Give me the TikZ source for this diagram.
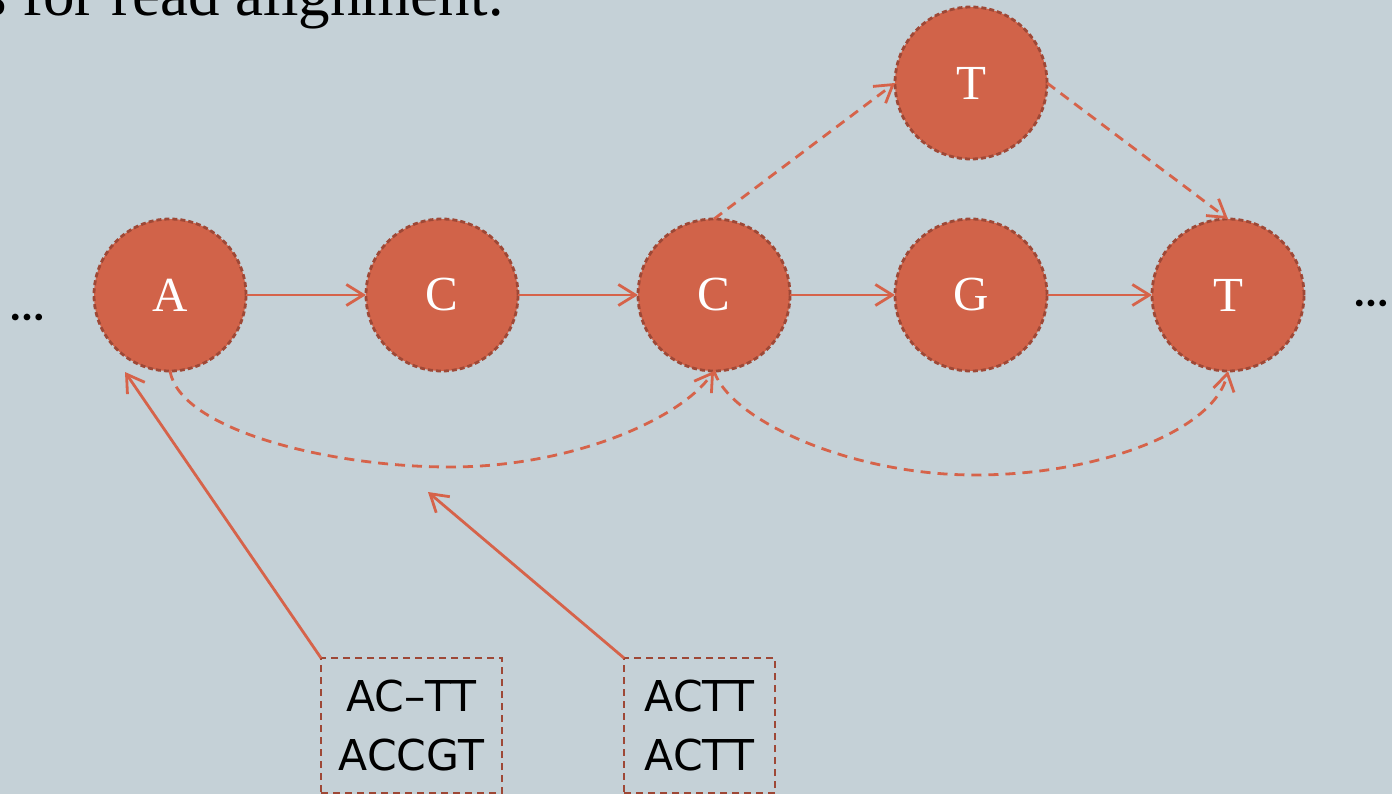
\documentclass[tikz,border=0pt]{standalone}
\usepackage{fontspec}
\setmainfont{Liberation Serif}
\newfontfamily\boxfont{DejaVu Sans}
\newfontfamily\dotfont{Lato}
\usetikzlibrary{arrows.meta}
\definecolor{bg}{HTML}{C5D1D7}
\definecolor{nodefill}{HTML}{D16349}
\definecolor{nodeedge}{HTML}{9E4836}
\definecolor{connc}{HTML}{D6634A}
\begin{document}
\begin{tikzpicture}[x=1pt,y=-1pt,
  base/.style={circle, fill=nodefill, draw=nodeedge, line width=2.8pt, dash pattern=on 5pt off 3pt, minimum size=152pt, inner sep=0pt, outer sep=0pt, text=white, font=\fontsize{49}{49}\selectfont},
  conn/.style={draw=connc, line width=2.8pt, -{Straight Barb[length=17pt,width=21pt,line width=2.8pt]}},
  dashconn/.style={conn, dash pattern=on 10pt off 7pt},
  readbox/.style={draw=nodeedge, line width=2.5pt, dash pattern=on 7pt off 5pt, anchor=north west, inner sep=0pt, outer sep=0pt, minimum height=135pt, align=center, text=black, font=\boxfont\fontsize{42.5}{59}\selectfont},
  dotstyle/.style={anchor=base, inner sep=0pt, font=\dotfont\bfseries\fontsize{44}{44}\selectfont}
]
\useasboundingbox (0,0) rectangle (1392,794);
\fill[bg] (0,0) rectangle (1392,794);

\node[anchor=base west, inner sep=0pt, font=\fontsize{63}{63}\selectfont] (title) at (-18,15.6) {s for read alignment:};

\node[base] (A) at (170,295) {A};
\node[base] (C1) at (442,295) {C};
\node[base] (C2) at (714,295) {C};
\node[base] (G) at (971,295) {G};
\node[base] (T) at (1228,295) {T};
\node[base] (Tt) at (971,83) {T};

\node[dotstyle] (ld) at (27,320) {…};
\node[dotstyle] (rd) at (1371,307) {…};

\draw[conn] (A) -- (C1);
\draw[conn] (C1) -- (C2);
\draw[conn] (C2) -- (G);
\draw[conn] (G) -- (T);

\draw[dashconn] (C2.north) -- (Tt.west);
\draw[dashconn] (Tt.east) -- (T.north);

\coordinate (m1) at (450,467);
\coordinate (m2) at (975,475);
\draw[dashconn] (A.south) .. controls (180,430) and (330,467) .. (m1) .. controls (570,467) and (680,420) .. (C2.south);
\draw[dashconn] (C2.south) .. controls (730,420) and (850,475) .. (m2) .. controls (1100,475) and (1215,430) .. (T.south);

\node[readbox, minimum width=181pt] (b1) at (321,658) {AC–TT\\ACCGT};
\node[readbox, minimum width=151pt] (b2) at (624,658) {ACTT\\ACTT};

\coordinate (p1) at (125,372);
\coordinate (p2) at (428,492);
\draw[conn] (b1.north west) -- (p1);
\draw[conn] (b2.north west) -- (p2);
\end{tikzpicture}
\end{document}
